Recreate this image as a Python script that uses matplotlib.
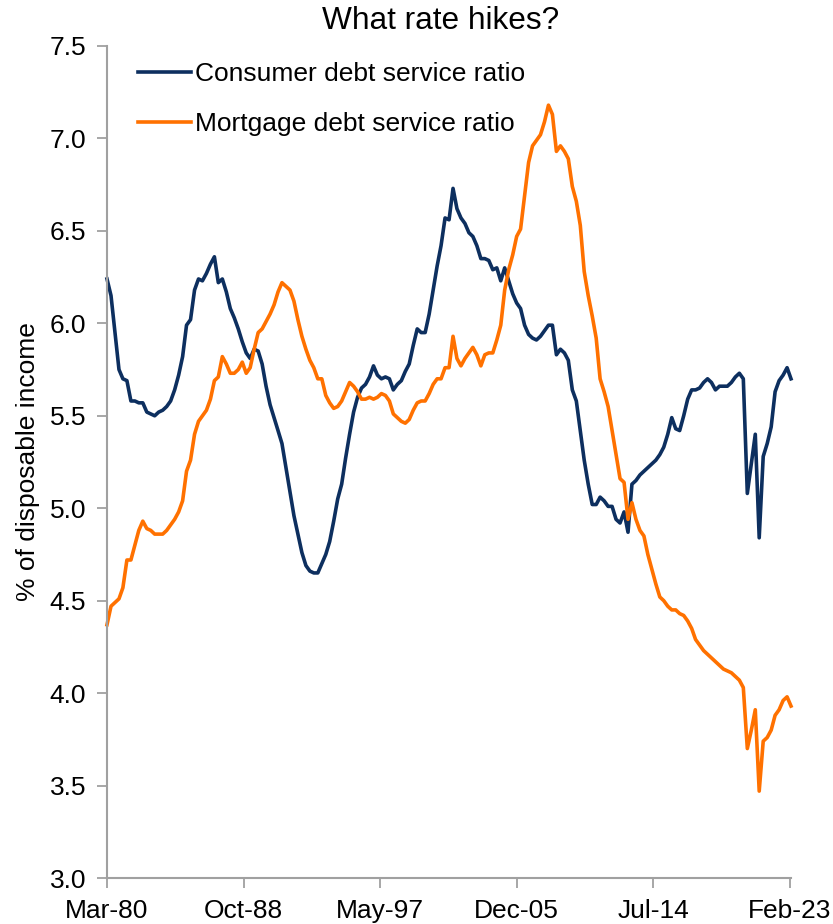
import matplotlib
matplotlib.use("Agg")
import matplotlib.pyplot as plt
import pandas as pd

plt.rcParams['font.family'] = ['Liberation Sans', 'DejaVu Sans']

# quarterly, Mar-80 .. Mar-23
start = "1980-03-01"

consumer = [
    6.24, 6.15, 5.95, 5.75, 5.70, 5.69, 5.58, 5.58, 5.57, 5.57,
    5.52, 5.51, 5.50, 5.52, 5.53, 5.55, 5.58, 5.64, 5.72, 5.82,
    5.99, 6.02, 6.18, 6.24, 6.23, 6.27, 6.32, 6.36, 6.22, 6.24,
    6.17, 6.08, 6.03, 5.97, 5.90, 5.84, 5.81, 5.86, 5.85, 5.78,
    5.66, 5.56, 5.49, 5.42, 5.35, 5.22, 5.09, 4.96, 4.86, 4.76,
    4.69, 4.66, 4.65, 4.65, 4.70, 4.75, 4.82, 4.93, 5.05, 5.13,
    5.27, 5.40, 5.52, 5.60, 5.65, 5.67, 5.71, 5.77, 5.72, 5.70,
    5.71, 5.70, 5.64, 5.67, 5.69, 5.74, 5.78, 5.88, 5.97, 5.95,
    5.95, 6.05, 6.18, 6.31, 6.42, 6.57, 6.56, 6.73, 6.62, 6.57,
    6.54, 6.49, 6.47, 6.42, 6.35, 6.35, 6.34, 6.29, 6.30, 6.23,
    6.30, 6.23, 6.16, 6.11, 6.08, 5.99, 5.94, 5.92, 5.91, 5.93,
    5.96, 5.99, 5.99, 5.83, 5.86, 5.84, 5.80, 5.64, 5.58, 5.42,
    5.26, 5.13, 5.02, 5.02, 5.06, 5.04, 5.01, 5.01, 4.94, 4.92,
    4.98, 4.87, 5.13, 5.15, 5.18, 5.20, 5.22, 5.24, 5.26, 5.29,
    5.33, 5.40, 5.49, 5.43, 5.42, 5.50, 5.59, 5.64, 5.64, 5.65,
    5.68, 5.70, 5.68, 5.64, 5.66, 5.66, 5.66, 5.68, 5.71, 5.73,
    5.70, 5.08, 5.24, 5.40, 4.84, 5.28, 5.35, 5.44, 5.63, 5.69,
    5.72, 5.76, 5.70,
]

mortgage = [
    4.37, 4.47, 4.49, 4.51, 4.57, 4.72, 4.72, 4.80, 4.88, 4.93,
    4.89, 4.88, 4.86, 4.86, 4.86, 4.88, 4.91, 4.94, 4.98, 5.04,
    5.20, 5.26, 5.40, 5.47, 5.50, 5.53, 5.59, 5.69, 5.71, 5.82,
    5.78, 5.73, 5.73, 5.75, 5.79, 5.73, 5.76, 5.86, 5.95, 5.97,
    6.01, 6.05, 6.10, 6.17, 6.22, 6.20, 6.18, 6.12, 6.02, 5.93,
    5.86, 5.80, 5.76, 5.70, 5.70, 5.61, 5.57, 5.54, 5.55, 5.58,
    5.63, 5.68, 5.66, 5.63, 5.59, 5.59, 5.60, 5.59, 5.60, 5.62,
    5.61, 5.58, 5.51, 5.49, 5.47, 5.46, 5.48, 5.53, 5.57, 5.58,
    5.58, 5.62, 5.67, 5.70, 5.70, 5.76, 5.76, 5.93, 5.81, 5.77,
    5.81, 5.84, 5.87, 5.83, 5.77, 5.83, 5.84, 5.84, 5.91, 5.99,
    6.18, 6.29, 6.37, 6.47, 6.51, 6.69, 6.87, 6.96, 6.99, 7.02,
    7.09, 7.18, 7.13, 6.93, 6.96, 6.93, 6.89, 6.74, 6.66, 6.53,
    6.28, 6.15, 6.04, 5.92, 5.70, 5.63, 5.55, 5.42, 5.29, 5.16,
    5.14, 4.94, 5.03, 4.94, 4.88, 4.85, 4.75, 4.67, 4.59, 4.52,
    4.50, 4.47, 4.45, 4.45, 4.43, 4.42, 4.39, 4.35, 4.29, 4.26,
    4.23, 4.21, 4.19, 4.17, 4.15, 4.13, 4.12, 4.11, 4.09, 4.07,
    4.03, 3.70, 3.80, 3.91, 3.47, 3.74, 3.76, 3.80, 3.88, 3.91,
    3.96, 3.98, 3.93,
]

tick_labels = ["Mar-80", "Oct-88", "May-97", "Dec-05", "Jul-14", "Feb-23"]
y_ticks = [3.0, 3.5, 4.0, 4.5, 5.0, 5.5, 6.0, 6.5, 7.0, 7.5]

dates = pd.date_range(start, periods=len(consumer), freq="3MS")
tick_dates = pd.to_datetime(tick_labels, format="%b-%y")

fig = plt.figure(figsize=(8.33, 9.24), dpi=100)
ax = fig.add_axes([107 / 833, 46 / 924, 684 / 833, 832 / 924])

ax.plot(dates, consumer, color="#0d2f5f", lw=2.6, label="Consumer debt service ratio", clip_on=False)
ax.plot(dates, mortgage, color="#ff7100", lw=2.6, label="Mortgage debt service ratio", clip_on=False)

ax.set_xlim(dates[0], dates[-1])
ax.set_ylim(3.0, 7.5)
ax.set_xticks(tick_dates)
ax.set_xticklabels(tick_labels)
ax.set_yticks(y_ticks)
ax.set_yticklabels([f"{v:.1f}" for v in y_ticks])
ax.tick_params(labelsize=19, length=7, width=1.3, color="#a0a0a0", pad=8)

for s in ["top", "right"]:
    ax.spines[s].set_visible(False)
for s in ["left", "bottom"]:
    ax.spines[s].set_color("#a0a0a0")
    ax.spines[s].set_linewidth(1.5)

ax.set_ylabel("% of disposable income", fontsize=19, labelpad=7)

fig.text(441 / 833, 1 - 21 / 924, "What rate hikes?", fontsize=22.8, ha="center", va="center")

ax.legend(loc="upper left", bbox_to_anchor=(0.03, 0.993), frameon=False, fontsize=19,
          handlelength=2.0, handletextpad=0.15, labelspacing=0.98, borderaxespad=0)

fig.savefig("out.png", dpi=100)
